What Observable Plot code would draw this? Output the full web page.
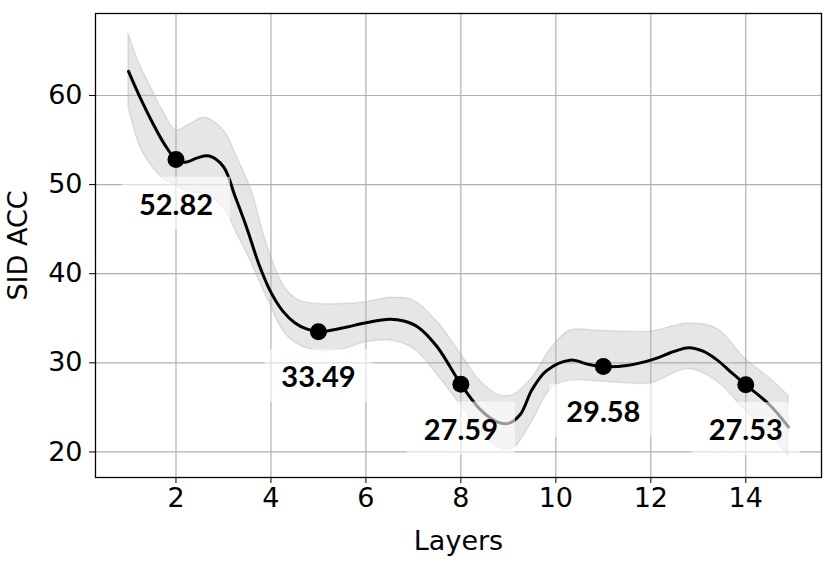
<!DOCTYPE html>
<html>
<head>
<meta charset="utf-8">
<script src="https://cdn.jsdelivr.net/npm/d3@7"></script>
<script src="https://cdn.jsdelivr.net/npm/@observablehq/plot@0.6"></script>
<style>
  html, body { margin: 0; padding: 0; background: #fff; }
  #chart { width: 831px; height: 562px; }
</style>
</head>
<body>
<div id="chart"></div>
<script>
// Marked layers and their SID ACC values
const layers = [2, 5, 8, 11, 14];
const accValues = [52.82, 33.49, 27.59, 29.58, 27.53];
const accLabels = ["52.82", "33.49", "27.59", "29.58", "27.53"];

// Smoothed curve
const curveX = [1.0, 1.25, 1.5, 1.75, 2.0, 2.2, 2.45, 2.7, 3.0, 3.25, 3.5, 3.75, 4.0, 4.25, 4.5, 4.75, 5.0, 5.5, 6.0, 6.5, 6.8, 7.1, 7.5, 8.0, 8.4, 8.75, 9.0, 9.25, 9.5, 9.8, 10.3, 10.7, 11.0, 11.5, 12.0, 12.5, 12.8, 13.1, 13.4, 13.7, 14.0, 14.5, 14.9];
const curveY = [62.7, 59.7, 57.0, 54.6, 52.82, 52.5, 53.0, 53.2, 52.0, 48.6, 45.0, 41.0, 37.9, 35.8, 34.5, 33.8, 33.49, 33.9, 34.5, 34.9, 34.7, 34.0, 31.8, 27.59, 24.8, 23.4, 23.2, 24.2, 27.0, 29.1, 30.3, 29.8, 29.58, 29.7, 30.3, 31.3, 31.7, 31.3, 30.3, 28.9, 27.53, 25.3, 22.8];

// Confidence band
const bandX = [1.0, 1.25, 1.5, 1.75, 2.0, 2.3, 2.6, 3.0, 3.3, 3.6, 3.9, 4.3, 4.6, 5.0, 5.5, 6.0, 6.5, 7.0, 7.5, 8.0, 8.4, 8.8, 9.1, 9.5, 9.9, 10.3, 10.9, 11.5, 12.0, 12.8, 13.4, 14.0, 14.5, 14.9];
const bandUpper = [66.9, 63.3, 60.6, 58.0, 56.1, 56.8, 57.5, 56.1, 52.9, 49.2, 43.5, 38.4, 37.0, 36.6, 36.6, 36.8, 37.3, 37.0, 34.6, 31.0, 28.0, 26.4, 26.4, 28.3, 31.6, 33.6, 33.6, 33.5, 33.5, 34.4, 33.8, 30.4, 28.3, 26.3];
const bandLower = [58.7, 54.2, 52.0, 50.6, 49.9, 49.1, 49.0, 47.4, 44.3, 41.1, 37.5, 33.3, 32.0, 31.35, 31.5, 32.3, 32.5, 31.6, 28.7, 25.2, 22.4, 20.5, 20.4, 23.4, 27.1, 28.0, 27.9, 27.7, 27.7, 29.3, 27.9, 24.6, 22.0, 19.55];

// Axis ticks
const xTicks = [2, 4, 6, 8, 10, 12, 14];
const yTicks = [20, 30, 40, 50, 60];

const points = layers.map((x, i) => ({x, y: accValues[i], label: accLabels[i]}));
const curve = curveX.map((x, i) => ({x, y: curveY[i]}));
const band = bandX.map((x, i) => ({x, lo: bandLower[i], hi: bandUpper[i]}));

const chart = Plot.plot({
  width: 831,
  height: 562,
  marginLeft: 95,
  marginRight: 10,
  marginTop: 13,
  marginBottom: 85,
  style: {fontFamily: "DejaVu Sans", fontSize: "27px", color: "#000", background: "#fff"},
  x: {domain: [0.305, 15.595]},
  y: {domain: [17.13, 69.2]},
  marks: [
    Plot.areaY(band, {x: "x", y1: "lo", y2: "hi", fill: "#808080", fillOpacity: 0.2, stroke: "#808080", strokeOpacity: 0.2, strokeWidth: 1.5, curve: "catmull-rom"}),
    Plot.gridX(xTicks, {stroke: "#b0b0b0", strokeOpacity: 1, strokeWidth: 1.2}),
    Plot.gridY(yTicks, {stroke: "#b0b0b0", strokeOpacity: 1, strokeWidth: 1.2}),
    Plot.line(curve, {x: "x", y: "y", stroke: "#000", strokeWidth: 3, curve: "catmull-rom"}),
    Plot.dot(points, {x: "x", y: "y", r: 8.5, fill: "#000", stroke: "none"}),
    Plot.text(points, {x: "x", y: "y", text: "label", dy: 46, fontSize: 29, fontWeight: "bold", fontFamily: "Lato", fill: "#000"}),
    Plot.frame({stroke: "#000", strokeWidth: 1.3}),
    Plot.axisX({ticks: xTicks, tickSize: 6, tickPadding: 4, fontSize: 27, label: "Layers", labelAnchor: "center", labelArrow: "none", labelOffset: 72}),
    Plot.axisY({ticks: yTicks, tickSize: 6, tickPadding: 7, fontSize: 27, label: "SID ACC", labelAnchor: "center", labelArrow: "none", labelOffset: 88})
  ]
});

document.getElementById("chart").appendChild(chart);

// Semi-transparent white boxes behind the value labels
chart.querySelectorAll('g[aria-label="text"] text').forEach(t => {
  const b = t.getBBox();
  const r = document.createElementNS("http://www.w3.org/2000/svg", "rect");
  const tr = t.getAttribute("transform");
  if (tr) r.setAttribute("transform", tr);
  r.setAttribute("x", b.x - 17);
  r.setAttribute("y", b.y - 9);
  r.setAttribute("width", b.width + 34);
  r.setAttribute("height", b.height + 18);
  r.setAttribute("fill", "#fff");
  r.setAttribute("fill-opacity", "0.6");
  t.parentNode.insertBefore(r, t);
});
</script>
</body>
</html>
